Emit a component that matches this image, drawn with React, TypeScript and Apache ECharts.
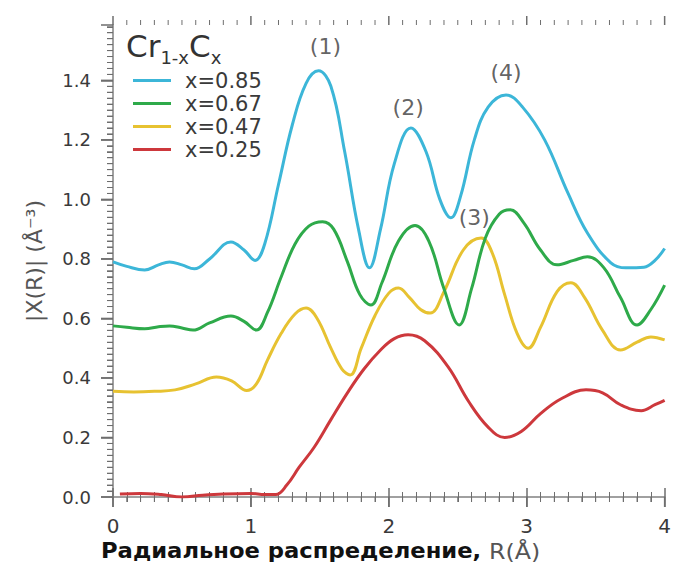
import React, { useEffect, useRef } from "react";
import * as echarts from "echarts";

const seriesNames = ["x=0.85", "x=0.67", "x=0.47", "x=0.25"];
const seriesColors = ["#3cb6d8", "#2eaa4a", "#e7c231", "#cd383c"];

const cyan: number[][] = [
  [0, 0.79], [0.1, 0.775], [0.23, 0.763], [0.33, 0.78], [0.41, 0.79], [0.5, 0.78], [0.59, 0.767],
  [0.7, 0.8], [0.855, 0.857], [0.95, 0.83], [1.03, 0.795], [1.1, 0.85], [1.2, 1.05], [1.3, 1.25],
  [1.4, 1.39], [1.49, 1.432], [1.58, 1.38], [1.68, 1.16], [1.78, 0.9], [1.86, 0.77], [1.94, 0.9],
  [2.04, 1.12], [2.16, 1.24], [2.27, 1.16], [2.37, 1.0], [2.45, 0.938], [2.52, 1.01], [2.62, 1.2],
  [2.72, 1.31], [2.85, 1.351], [2.97, 1.31], [3.13, 1.2], [3.3, 1.02], [3.44, 0.887], [3.61, 0.787],
  [3.72, 0.77], [3.85, 0.772], [3.93, 0.795], [4.0, 0.835],
];
const green: number[][] = [
  [0, 0.575], [0.1, 0.57], [0.23, 0.565], [0.33, 0.572], [0.41, 0.575], [0.5, 0.568], [0.58, 0.561],
  [0.7, 0.585], [0.855, 0.608], [0.95, 0.59], [1.04, 0.561], [1.12, 0.62], [1.22, 0.74], [1.32, 0.85],
  [1.42, 0.91], [1.52, 0.925], [1.6, 0.9], [1.7, 0.79], [1.79, 0.68], [1.87, 0.645], [1.95, 0.72],
  [2.07, 0.86], [2.19, 0.912], [2.29, 0.86], [2.4, 0.7], [2.51, 0.578], [2.6, 0.7], [2.7, 0.87],
  [2.8, 0.95], [2.88, 0.965], [2.98, 0.92], [3.1, 0.83], [3.22, 0.78], [3.34, 0.795], [3.44, 0.807],
  [3.56, 0.77], [3.68, 0.67], [3.8, 0.578], [3.9, 0.63], [4.0, 0.712],
];
const yellow: number[][] = [
  [0, 0.355], [0.15, 0.353], [0.3, 0.355], [0.45, 0.36], [0.6, 0.38], [0.75, 0.403], [0.86, 0.39],
  [0.97, 0.358], [1.04, 0.38], [1.12, 0.46], [1.22, 0.55], [1.32, 0.615], [1.4, 0.635], [1.48, 0.6],
  [1.58, 0.5], [1.66, 0.43], [1.72, 0.41], [1.8, 0.5], [1.9, 0.61], [2.0, 0.685], [2.07, 0.702],
  [2.15, 0.67], [2.23, 0.63], [2.3, 0.618], [2.4, 0.69], [2.54, 0.83], [2.67, 0.87], [2.75, 0.82],
  [2.84, 0.68], [2.93, 0.55], [3.01, 0.5], [3.1, 0.57], [3.22, 0.69], [3.32, 0.72], [3.42, 0.67],
  [3.55, 0.56], [3.68, 0.494], [3.8, 0.52], [3.9, 0.538], [4.0, 0.528],
];
const red: number[][] = [
  [0.05, 0.01], [0.2, 0.012], [0.35, 0.008], [0.5, 0.0], [0.65, 0.006], [0.8, 0.01], [1.0, 0.012],
  [1.1, 0.008], [1.18, 0.008], [1.26, 0.04], [1.35, 0.1], [1.46, 0.168], [1.58, 0.26], [1.7, 0.35],
  [1.82, 0.43], [1.94, 0.494], [2.04, 0.532], [2.14, 0.545], [2.26, 0.525], [2.43, 0.437], [2.58, 0.32],
  [2.72, 0.235], [2.84, 0.2], [2.96, 0.22], [3.1, 0.28], [3.25, 0.33], [3.43, 0.36], [3.55, 0.35],
  [3.68, 0.31], [3.83, 0.29], [3.93, 0.31], [4.0, 0.325],
];
const seriesData = [cyan, green, yellow, red];

const peakLabels = ["(1)", "(2)", "(3)", "(4)"];
const peakPositions: number[][] = [[1.54, 1.513], [2.14, 1.308], [2.62, 0.938], [2.85, 1.425]];

const xMajorTicks = [0, 1, 2, 3, 4];
const yMajorTicks = [0, 0.2, 0.4, 0.6, 0.8, 1.0, 1.2, 1.4];
const X_MIN = 0, X_MAX = 4, X_MINOR = 0.1;
const Y_MIN = 0, Y_MAX = 1.586, Y_MINOR = 0.02;

const yTitle = "|X(R)| (Å⁻³)";
const xTitleBold = "Радиальное распределение,";
const xTitleNormal = " R(Å)";

const FONT = "DejaVu Sans, Verdana, sans-serif";
const AXIS = "#9a9a9a";
const TICK = "#6e6e6e";
const TEXT = "#3a3a3a";

export default function App() {
  const ref = useRef<HTMLDivElement>(null);
  useEffect(() => {
    if (!ref.current) return;
    const chart = echarts.init(ref.current, undefined, { renderer: "svg" });
    const line = { show: true, lineStyle: { color: AXIS, width: 1.5 } };
    const tick = (len: number) => ({ show: true, length: len, lineStyle: { color: TICK, width: 1.5 } });
    const minor = (len: number) => ({ show: true, splitNumber: 10, length: len, lineStyle: { color: TICK, width: 1 } });

    const renderTicks = (_params: any, api: any) => {
      const children: any[] = [];
      const add = (x1: number, y1: number, x2: number, y2: number, w: number) =>
        children.push({ type: "line", shape: { x1, y1, x2, y2 }, style: { stroke: TICK, lineWidth: w } });
      const nX = Math.round((X_MAX - X_MIN) / X_MINOR);
      for (let k = 0; k <= nX; k++) {
        const v = X_MIN + k * X_MINOR;
        const major = xMajorTicks.some((t) => Math.abs(t - v) < 1e-6);
        const b = api.coord([v, Y_MIN]);
        const t = api.coord([v, Y_MAX]);
        add(b[0], b[1], b[0], b[1] + (major ? 10 : 5), major ? 1.5 : 1);
        add(t[0], t[1], t[0], t[1] - (major ? 9 : 5), major ? 1.5 : 1);
      }
      const nY = Math.floor((Y_MAX - Y_MIN) / Y_MINOR + 1e-6);
      for (let k = 0; k <= nY; k++) {
        const v = Y_MIN + k * Y_MINOR;
        const major = yMajorTicks.some((t) => Math.abs(t - v) < 1e-6);
        const p = api.coord([X_MIN, v]);
        add(p[0], p[1], p[0] - (major ? 12 : 6), p[1], major ? 1.5 : 1);
      }
      return { type: "group", children };
    };

    chart.setOption({
      animation: false,
      grid: { left: 113, right: 8, top: 25, bottom: 71 },
      legend: {
        orient: "vertical",
        left: 128,
        top: 65,
        itemWidth: 38,
        itemHeight: 3,
        itemGap: 2,
        icon: "rect",
        data: seriesNames,
        textStyle: { fontFamily: FONT, fontSize: 21, color: TEXT, lineHeight: 20, padding: [0, 0, 0, 9] },
      },
      xAxis: [
        {
          type: "value", min: X_MIN, max: X_MAX, interval: 1, position: "bottom",
          axisLine: line, splitLine: { show: false },
          axisTick: tick(10), minorTick: minor(5),
          axisLabel: { show: true, fontFamily: FONT, fontSize: 20, color: TEXT, margin: 19 },
        },
        {
          type: "value", min: X_MIN, max: X_MAX, interval: 1, position: "top",
          axisLine: line, splitLine: { show: false },
          axisTick: tick(9), minorTick: minor(5),
          axisLabel: { show: false },
        },
      ],
      yAxis: [
        {
          type: "value", min: Y_MIN, max: Y_MAX, interval: 0.2, position: "left",
          axisLine: line, splitLine: { show: false },
          axisTick: tick(12), minorTick: minor(6),
          axisLabel: {
            show: true, fontFamily: FONT, fontSize: 18, color: TEXT, margin: 22, showMaxLabel: false,
            formatter: (v: number) => (Math.abs(v / 0.2 - Math.round(v / 0.2)) < 1e-6 ? v.toFixed(1) : ""),
          },
          name: yTitle,
          nameLocation: "middle",
          nameGap: 68,
          nameTextStyle: { fontFamily: FONT, fontSize: 22, color: "#555" },
        },
        {
          type: "value", min: Y_MIN, max: Y_MAX, position: "right",
          axisLine: line, splitLine: { show: false },
          axisTick: { show: false }, minorTick: { show: false },
          axisLabel: { show: false },
        },
      ],
      series: [
        {
          name: "ticks",
          type: "custom",
          silent: true,
          clip: false,
          z: 1,
          data: [[X_MIN, Y_MIN]],
          renderItem: renderTicks,
        },
        ...seriesNames.map((n, i) => ({
          name: n,
          type: "line",
          data: seriesData[i],
          smooth: 0.4,
          showSymbol: false,
          symbol: "none",
          color: seriesColors[i],
          lineStyle: { width: 3, color: seriesColors[i] },
          z: 5 - i,
        })),
        {
          name: "peaks",
          type: "scatter",
          symbolSize: 0,
          data: peakPositions.map((p, i) => ({ value: p, name: peakLabels[i] })),
          label: {
            show: true, position: "inside", formatter: "{b}",
            fontFamily: FONT, fontSize: 22, color: "#3a3a3a",
          },
          z: 10,
          silent: true,
        },
      ],
      graphic: [
        {
          type: "text", left: 126, top: 30,
          style: {
            text: "{a|Cr}{s|1-x}{a|C}{s|x}",
            rich: {
              a: { fontFamily: FONT, fontSize: 31, fill: "#333", verticalAlign: "bottom" },
              s: { fontFamily: FONT, fontSize: 18, fill: "#333", verticalAlign: "bottom", padding: [0, 0, -5, 0] },
            },
          },
        },
        {
          type: "text", left: 101, top: 540, scaleX: 1.08,
          style: {
            text: "{b|" + xTitleBold + "}{n|" + xTitleNormal + "}",
            rich: {
              b: { fontFamily: FONT, fontSize: 21, fontWeight: "bold", fill: "#111" },
              n: { fontFamily: FONT, fontSize: 22, fill: "#555" },
            },
          },
        },
      ],
    });
    return () => chart.dispose();
  }, []);
  return <div ref={ref} style={{ position: "absolute", left: 0, top: 0, width: 674, height: 568, background: "#fff" }} />;
}
